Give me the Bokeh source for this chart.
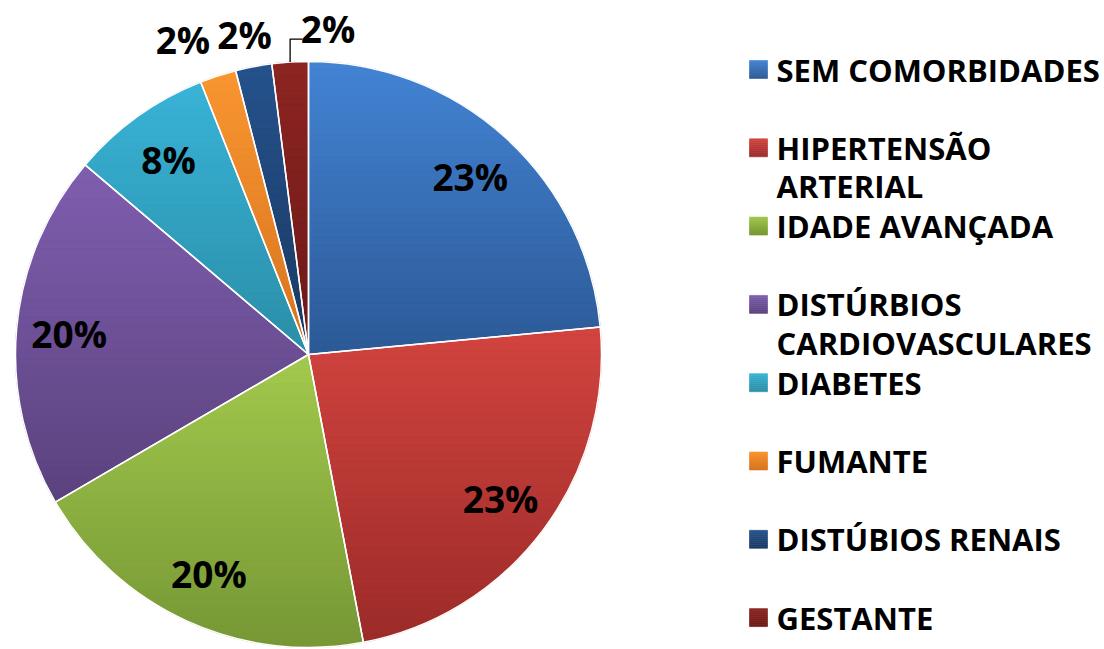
import math
from bokeh.plotting import figure
from bokeh.models import Range1d
from bokeh.embed import file_html
from bokeh.resources import INLINE
from bokeh.core.properties import value

# ---------------- data ----------------
categories = ["SEM COMORBIDADES", "HIPERTENSÃO ARTERIAL", "IDADE AVANÇADA",
              "DISTÚRBIOS CARDIOVASCULARES", "DIABETES", "FUMANTE",
              "DISTÚBIOS RENAIS", "GESTANTE"]
legend_lines = [["SEM COMORBIDADES"], ["HIPERTENSÃO", "ARTERIAL"], ["IDADE AVANÇADA"],
                ["DISTÚRBIOS", "CARDIOVASCULARES"], ["DIABETES"], ["FUMANTE"],
                ["DISTÚBIOS RENAIS"], ["GESTANTE"]]
values = [23.5, 23.5, 19.6, 19.6, 7.8, 2.0, 2.0, 2.0]
pct_labels = ["23%", "23%", "20%", "20%", "8%", "2%", "2%", "2%"]

colors_top = ["#4384D4", "#D2443F", "#A3C94D", "#7F5EAF", "#39B3D7", "#F99631", "#25528C", "#8C2522"]
colors_bot = ["#2C5996", "#9B2B29", "#769735", "#5B427E", "#2A8EA7", "#D7731E", "#1A3962", "#6B1917"]
colors_mid = ["#3A70B8", "#B93835", "#8DB142", "#6E5198", "#32A2C0", "#EA8528", "#20467A", "#7E1F1D"]

# ---------------- layout (pixels of the page) ----------------
W, H = 1104, 649
def X(ix): return ix
def Y(iy): return H - iy

CX, CY, R = X(308), Y(354), 293
INSIDE_FRAC = 0.82
OUT_OFFSETS = {5: (-35, 36), 6: (-9, 32), 7: (38, 34)}
PCT_FONT = "37px"
LEG_FONT = "31px"
LEG_SQ_X, LEG_TXT_X = X(758), X(776)
LEG_Y0, LEG_STEP, LEG_LINE = 69, 78.3, 38.5
SQ = 18
FONT = "Open Sans"

p = figure(width=W, height=H, x_range=Range1d(0, W), y_range=Range1d(0, H),
           output_backend="svg", toolbar_location=None, min_border=0)
p.axis.visible = False
p.grid.visible = False
p.outline_line_color = None
p.background_fill_color = "white"
p.border_fill_color = "white"


def lerp_color(c1, c2, t):
    a = [int(c1[i:i + 2], 16) for i in (1, 3, 5)]
    b = [int(c2[i:i + 2], 16) for i in (1, 3, 5)]
    return "#%02x%02x%02x" % tuple(int(round(a[k] + (b[k] - a[k]) * t)) for k in range(3))


def clip_half(pts, keep, yb):
    out = []
    n = len(pts)
    for i in range(n):
        cur, prev = pts[i], pts[i - 1]
        cin, pin = keep(cur[1]), keep(prev[1])
        if cin != pin:
            t = (yb - prev[1]) / (cur[1] - prev[1])
            out.append((prev[0] + t * (cur[0] - prev[0]), yb))
        if cin:
            out.append(cur)
    return out


def band_patches(poly, ctop, cbot, n=40):
    ys = [q[1] for q in poly]
    ymin, ymax = min(ys), max(ys)
    xs_all, ys_all, cols = [], [], []
    for k in range(n):
        y1 = ymax - (ymax - ymin) * k / n
        y0 = ymax - (ymax - ymin) * (k + 1) / n
        pts = clip_half(poly, lambda y: y <= y1 + 1e-9, y1)
        pts = clip_half(pts, lambda y: y >= y0 - 1e-9, y0) if pts else []
        if len(pts) >= 3:
            xs_all.append([q[0] for q in pts])
            ys_all.append([q[1] for q in pts])
            cols.append(lerp_color(ctop, cbot, (k + 0.5) / n))
    return xs_all, ys_all, cols


total = sum(values)
cw = [0.0]
for v in values:
    cw.append(cw[-1] + v / total * 2 * math.pi)

starts = [math.pi / 2 - cw[i + 1] for i in range(len(values))]
ends = [math.pi / 2 - cw[i] for i in range(len(values))]

# base wedges
p.wedge(x=[CX] * len(values), y=[CY] * len(values), radius=R,
        start_angle=starts, end_angle=ends, fill_color=colors_mid, line_color=None)

# gradient overlay per slice
for i in range(len(values)):
    a0, a1 = cw[i], cw[i + 1]
    m = max(4, int((a1 - a0) / (2 * math.pi) * 360))
    poly = [(CX, CY)] + [(CX + R * math.sin(a0 + (a1 - a0) * j / m),
                          CY + R * math.cos(a0 + (a1 - a0) * j / m)) for j in range(m + 1)]
    xs, ys, cols = band_patches(poly, colors_top[i], colors_bot[i])
    p.patches(xs, ys, fill_color=cols, line_color=cols, line_width=0.8)

# white separators
p.wedge(x=[CX] * len(values), y=[CY] * len(values), radius=R,
        start_angle=starts, end_angle=ends, fill_color=None, line_color="white", line_width=1.5)

# percentage labels
lx, ly, lt = [], [], []
for i in range(len(values)):
    mid = (cw[i] + cw[i + 1]) / 2
    if i in OUT_OFFSETS:
        ex, ey = CX + R * math.sin(mid), CY + R * math.cos(mid)
        dx, dy = OUT_OFFSETS[i]
        lx.append(ex + dx); ly.append(ey + dy)
        if i == 7:
            p.line([ex, ex, ex + 12], [ey, ey + 23, ey + 23], line_color="black", line_width=1.3)
    else:
        lx.append(CX + INSIDE_FRAC * R * math.sin(mid))
        ly.append(CY + INSIDE_FRAC * R * math.cos(mid))
    lt.append(pct_labels[i])
p.text(x=lx, y=ly, text=lt, text_font=value(FONT), text_font_style="bold",
       text_font_size=PCT_FONT, text_align="center", text_baseline="middle", text_color="black")

# legend
tx, ty, tt = [], [], []
for i, lines in enumerate(legend_lines):
    yc = Y(LEG_Y0 + LEG_STEP * i)
    sq = [(LEG_SQ_X - SQ / 2, yc - SQ / 2), (LEG_SQ_X + SQ / 2, yc - SQ / 2),
          (LEG_SQ_X + SQ / 2, yc + SQ / 2), (LEG_SQ_X - SQ / 2, yc + SQ / 2)]
    xs, ys, cols = band_patches(sq, colors_top[i], colors_bot[i], n=9)
    p.patches(xs, ys, fill_color=cols, line_color=cols, line_width=0.6)
    for j, ln in enumerate(lines):
        tx.append(LEG_TXT_X); ty.append(yc - LEG_LINE * j); tt.append(ln)
p.text(x=tx, y=ty, text=tt, text_font=value(FONT), text_font_style="bold",
       text_font_size=LEG_FONT, text_align="left", text_baseline="middle", text_color="black")

open("out.html", "w").write(file_html(p, INLINE))
